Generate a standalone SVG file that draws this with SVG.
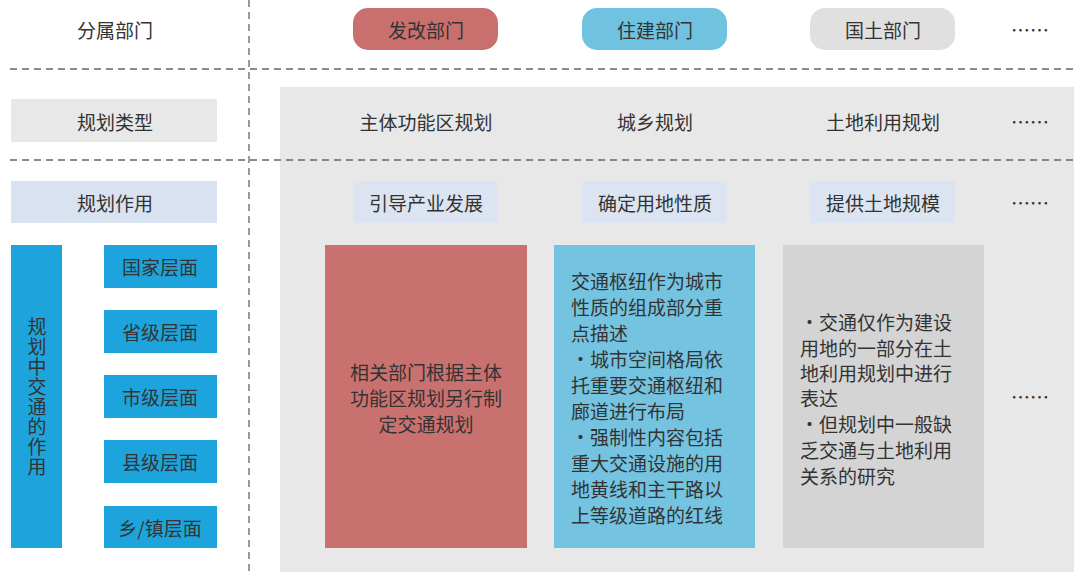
<svg xmlns="http://www.w3.org/2000/svg" width="1080" height="581" viewBox="0 0 1080 581">
<style>
text{font-family:"Noto Sans CJK SC","Noto Sans",sans-serif;fill:#333;font-size:19px}
.c{text-anchor:middle;dominant-baseline:central}
.dash{stroke:#666;stroke-width:1.3;stroke-dasharray:7 5;fill:none}
.lvl{fill:#1ea4dc}
.pb{fill:#dbe4f0}
</style>
<rect width="1080" height="581" fill="#fff"/>
<g id="panel"><rect x="280" y="87" width="794" height="485" fill="#e8e8e8"/></g>
<g id="connectors">
<line class="dash" x1="249" y1="0" x2="249" y2="575"/>
<line class="dash" x1="10" y1="69" x2="1074" y2="69"/>
<line class="dash" x1="10" y1="160" x2="1074" y2="160"/>
</g>
<g id="h1"><text class="c" x="115" y="29">分属部门</text></g>
<g id="d1"><rect x="353" y="8" width="145" height="42" rx="15" fill="#c9706e"/><text class="c" x="426" y="29">发改部门</text></g>
<g id="d2"><rect x="582" y="8" width="145" height="42" rx="15" fill="#6fc3e1"/><text class="c" x="655" y="29">住建部门</text></g>
<g id="d3"><rect x="810" y="8" width="145" height="42" rx="15" fill="#e0e0e0"/><text class="c" x="883" y="29">国土部门</text></g>
<g id="e1"><text class="c" x="1030" y="29">……</text></g>
<g id="h2"><rect x="11" y="99" width="206" height="43" fill="#e8e8e8"/><text class="c" x="115" y="121">规划类型</text></g>
<g id="t1"><text class="c" x="426" y="121">主体功能区规划</text></g>
<g id="t2"><text class="c" x="655" y="121">城乡规划</text></g>
<g id="t3"><text class="c" x="883" y="121">土地利用规划</text></g>
<g id="e2"><text class="c" x="1030" y="121">……</text></g>
<g id="h3"><rect x="11" y="181" width="206" height="42" fill="#d9e2f0"/><text class="c" x="115" y="202">规划作用</text></g>
<g id="r1"><rect x="353" y="181" width="145" height="42" class="pb"/><text class="c" x="426" y="202">引导产业发展</text></g>
<g id="r2"><rect x="582" y="181" width="145" height="42" class="pb"/><text class="c" x="655" y="202">确定用地性质</text></g>
<g id="r3"><rect x="810" y="181" width="145" height="42" class="pb"/><text class="c" x="883" y="202">提供土地规模</text></g>
<g id="e3"><text class="c" x="1030" y="202">……</text></g>
<g id="vbar"><rect x="11" y="245" width="51" height="303" class="lvl"/>
<text class="c" x="37" y="397" style="writing-mode:vertical-rl;letter-spacing:1px" font-size="18">规划中交通的作用</text></g>
<g id="l1"><rect x="104" y="245" width="113" height="43" class="lvl"/><text class="c" x="160" y="266">国家层面</text></g>
<g id="l2"><rect x="104" y="310" width="113" height="43" class="lvl"/><text class="c" x="160" y="331">省级层面</text></g>
<g id="l3"><rect x="104" y="375" width="113" height="43" class="lvl"/><text class="c" x="160" y="396">市级层面</text></g>
<g id="l4"><rect x="104" y="440" width="113" height="43" class="lvl"/><text class="c" x="160" y="461">县级层面</text></g>
<g id="l5"><rect x="104" y="506" width="113" height="42" class="lvl"/><text class="c" x="160" y="527">乡/镇层面</text></g>
<g id="c1"><rect x="325" y="245" width="202" height="303" fill="#c9716f"/>
<text class="c" x="426" y="371">相关部门根据主体</text>
<text class="c" x="426" y="397">功能区规划另行制</text>
<text class="c" x="426" y="423">定交通规划</text></g>
<g id="c2"><rect x="554" y="245" width="201" height="303" fill="#74c3e1"/>
<g style="dominant-baseline:central">
<text x="571" y="280">交通枢纽作为城市</text>
<text x="571" y="306">性质的组成部分重</text>
<text x="571" y="332">点描述</text>
<text x="571" y="358">・城市空间格局依</text>
<text x="571" y="384">托重要交通枢纽和</text>
<text x="571" y="410">廊道进行布局</text>
<text x="571" y="436">・强制性内容包括</text>
<text x="571" y="462">重大交通设施的用</text>
<text x="571" y="488">地黄线和主干路以</text>
<text x="571" y="514">上等级道路的红线</text></g></g>
<g id="c3"><rect x="783" y="245" width="201" height="303" fill="#d4d4d4"/>
<g style="dominant-baseline:central">
<text x="800" y="321">・交通仅作为建设</text>
<text x="800" y="347">用地的一部分在土</text>
<text x="800" y="372">地利用规划中进行</text>
<text x="800" y="397">表达</text>
<text x="800" y="423">・但规划中一般缺</text>
<text x="800" y="449">乏交通与土地利用</text>
<text x="800" y="475">关系的研究</text></g></g>
<g id="e4"><text class="c" x="1030" y="396">……</text></g>
</svg>
